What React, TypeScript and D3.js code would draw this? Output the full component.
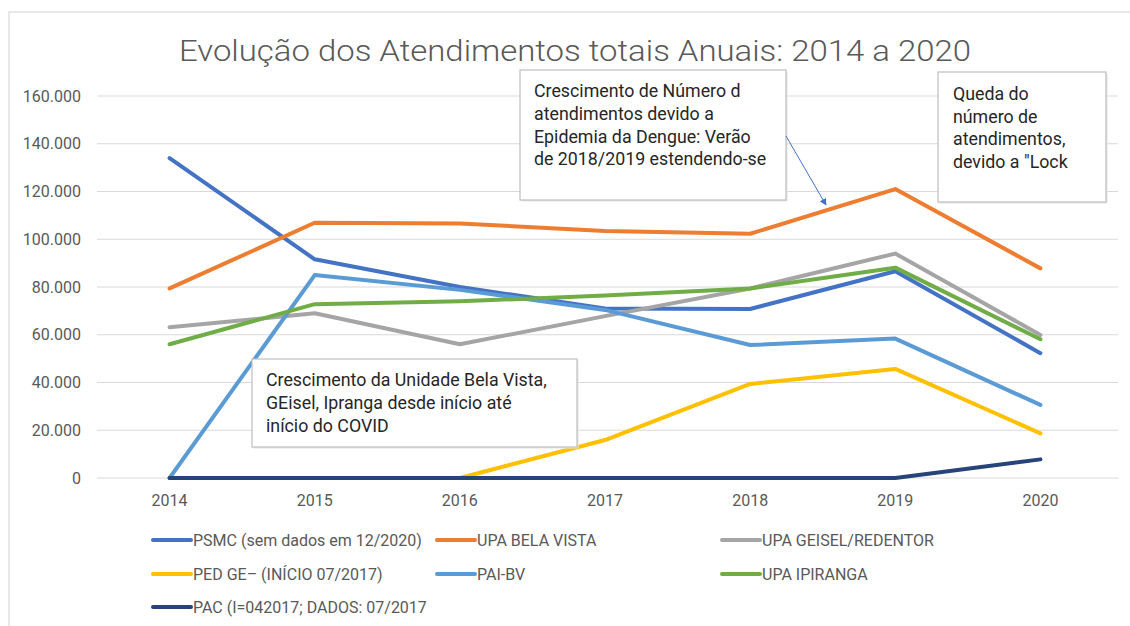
import React from "react";
import * as d3 from "d3";

const years = ["2014", "2015", "2016", "2017", "2018", "2019", "2020"];
const yTicks = [0, 20000, 40000, 60000, 80000, 100000, 120000, 140000, 160000];

const psmc = [134000, 91600, 80000, 71000, 70800, 86600, 52300];
const belaVista = [79400, 106900, 106600, 103500, 102300, 121000, 87800];
const geisel = [63100, 69000, 56000, 67800, 79400, 94000, 59900];
const pedGe = [0, 0, 0, 15900, 39400, 45700, 18700];
const paiBv = [0, 85000, 78800, 70400, 55700, 58400, 30600];
const ipiranga = [56000, 72800, 74000, 76400, 79400, 88100, 58100];
const pac = [0, 0, 0, 0, 0, 0, 7800];

const seriesNames = [
  "PSMC (sem dados em 12/2020)",
  "UPA BELA VISTA",
  "UPA GEISEL/REDENTOR",
  "PED GE–  (INÍCIO 07/2017)",
  "PAI-BV",
  "UPA IPIRANGA",
  "PAC (I=042017; DADOS: 07/2017",
];
const seriesColors = ["#4472C4", "#ED7D31", "#A5A5A5", "#FFC000", "#5B9BD5", "#70AD47", "#264478"];
const seriesValues = [psmc, belaVista, geisel, pedGe, paiBv, ipiranga, pac];

const title = "Evolução dos Atendimentos totais Anuais: 2014 a 2020";
const note1 = ["Crescimento de Número d", "atendimentos devido a", "Epidemia da Dengue: Verão", "de 2018/2019 estendendo-se"];
const note2 = ["Queda do", "número de", "atendimentos,", "devido a \"Lock"];
const note3 = ["Crescimento da Unidade Bela Vista,", "GEisel, Ipranga desde início até", "início do COVID"];

const W = 1130;
const H = 626;
const plotLeft = 97;
const plotRight = 1113;
const plotTop = 96;
const plotBottom = 478;
const font = "Roboto, 'Open Sans', sans-serif";
const textColor = "#595959";

export default function App() {
  const x = d3.scaleBand<string>().domain(years).range([plotLeft, plotRight]);
  const y = d3.scaleLinear().domain([0, 160000]).range([plotBottom, plotTop]);
  const cx = (yr: string) => (x(yr) as number) + x.bandwidth() / 2;
  const line = d3
    .line<number>()
    .x((_, i) => cx(years[i]))
    .y((v) => y(v));

  const fmt = (v: number) => (v === 0 ? "0" : d3.format(",")(v).replace(/,/g, "."));

  const legendCols = [153, 437, 722];
  const legendRows = [540, 574, 607];

  const box = (x0: number, y0: number, w: number, h: number, lines: string[], tx: number, ty: number, lh: number, key: string) => (
    <g key={key}>
      <rect x={x0 + 1.5} y={y0 + 1.5} width={w} height={h} fill="#e6e6e6" />
      <rect x={x0} y={y0} width={w} height={h} fill="#fff" stroke="#bfbfbf" strokeWidth={1.2} />
      {lines.map((l, i) => (
        <text key={i} x={tx} y={ty + i * lh} fontFamily={font} fontSize={17.8} fill="#262626">
          {l}
        </text>
      ))}
    </g>
  );

  return (
    <svg width={W} height={H} style={{ position: "absolute", left: 0, top: 0, background: "#fff" }}>
      <rect x={9} y={12} width={W} height={H} fill="#fff" stroke="#d9d9d9" strokeWidth={1.2} />
      <text x={575} y={61} textAnchor="middle" fontFamily={font} fontWeight={300} fontSize={30} fill={textColor} textLength={792} lengthAdjust="spacingAndGlyphs">
        {title}
      </text>
      {yTicks.map((t) => (
        <g key={t}>
          <line x1={plotLeft} x2={plotRight + 5} y1={y(t)} y2={y(t)} stroke="#d9d9d9" strokeWidth={1.2} />
          <text x={81} y={y(t) + 5.5} textAnchor="end" fontFamily={font} fontSize={16} fill={textColor}>
            {fmt(t)}
          </text>
        </g>
      ))}
      {years.map((yr) => (
        <text key={yr} x={cx(yr)} y={506} textAnchor="middle" fontFamily={font} fontSize={16} fill={textColor}>
          {yr}
        </text>
      ))}
      {seriesValues.map((vals, i) => (
        <path key={i} d={line(vals) as string} fill="none" stroke={seriesColors[i]} strokeWidth={4} strokeLinejoin="round" strokeLinecap="round" />
      ))}
      {seriesNames.map((n, i) => {
        const col = i % 3;
        const row = Math.floor(i / 3);
        const lx = legendCols[col];
        const ly = legendRows[row];
        return (
          <g key={n}>
            <line x1={lx} x2={lx + 38} y1={ly} y2={ly} stroke={seriesColors[i]} strokeWidth={4} strokeLinecap="round" />
            <text x={lx + 40} y={ly + 6} fontFamily={font} fontSize={16} fill={textColor}>
              {n}
            </text>
          </g>
        );
      })}
      {box(520, 70, 266, 130, note1, 534, 97, 22.8, "n1")}
      {box(938, 72, 168, 130, note2, 953, 100, 22.5, "n2")}
      {box(252, 359, 325, 88, note3, 266, 386, 23, "n3")}
      <defs>
        <marker id="arr" viewBox="0 0 10 10" refX={9} refY={5} markerWidth={7} markerHeight={7} orient="auto">
          <path d="M0,0 L10,5 L0,10 z" fill="#4472C4" />
        </marker>
      </defs>
      <line x1={786} y1={136} x2={826} y2={205} stroke="#4472C4" strokeWidth={1} markerEnd="url(#arr)" />
    </svg>
  );
}
